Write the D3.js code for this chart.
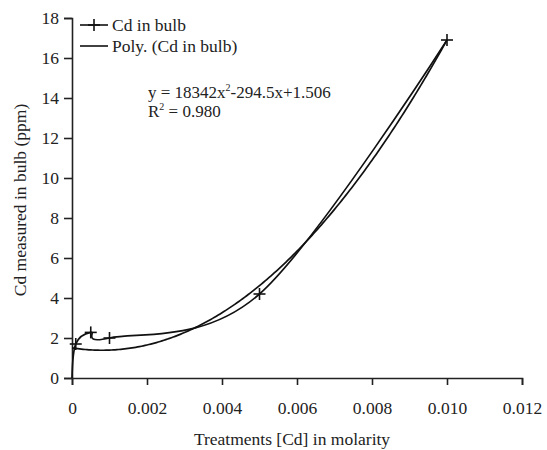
<!DOCTYPE html>
<html><head><meta charset="utf-8">
<script src="https://cdn.jsdelivr.net/npm/d3@7/dist/d3.min.js"></script>
<style>
html,body{margin:0;padding:0;background:#fff;}
svg text{font-family:"Liberation Serif","Times New Roman",serif !important;fill:#222;}
</style></head>
<body>
<svg id="chart" width="547" height="450"></svg>
<script>
// Data
const treatments = [0, 0.0001, 0.0005, 0.001, 0.005, 0.01];
const cdInBulb = [0, 1.7, 2.28, 2.0, 4.2, 16.9];
// Polynomial trendline coefficients [a, b, c] for y = a x^2 + b x + c (drawn curve)
const trendCoeffs = [183420, -294.5, 1.506];
const trendRange = [0, 0.01];
const xTicks = [0, 0.002, 0.004, 0.006, 0.008, 0.010, 0.012];
const xTickLabels = ["0", "0.002", "0.004", "0.006", "0.008", "0.010", "0.012"];
const yTicks = [0, 2, 4, 6, 8, 10, 12, 14, 16, 18];
const legendLabels = ["Cd in bulb", "Poly. (Cd in bulb)"];
const equationText = ["y = 18342x", "2", "-294.5x+1.506"];
const r2Text = ["R", "2", " = 0.980"];

const FONT = "Liberation Serif, Times New Roman, serif";
const FS = 17.5;
const svg = d3.select("#chart");
const x = d3.scaleLinear().domain([0, 0.012]).range([72, 522]);
const y = d3.scaleLinear().domain([0, 18]).range([378, 18]);

// axes
const xAxis = svg.append("g").attr("transform", `translate(0,${y(0)})`)
  .call(d3.axisBottom(x).tickValues(xTicks).tickFormat((d,i)=>xTickLabels[i]).tickSizeOuter(0).tickSize(7).tickPadding(17));
const yAxis = svg.append("g").attr("transform", `translate(${x(0)},0)`)
  .call(d3.axisLeft(y).tickValues(yTicks).tickSizeOuter(0).tickSize(8).tickPadding(5));
[xAxis, yAxis].forEach(g => {
  g.attr("font-family", FONT);
  g.select(".domain").attr("stroke", "#222").attr("stroke-width", 1.6);
  g.selectAll(".tick line").attr("stroke", "#222").attr("stroke-width", 1.6);
  g.selectAll(".tick text").attr("font-size", FS).attr("font-family", FONT).attr("fill", "#222");
});

// trendline
const trendX = d3.range(0, 201).map(i => trendRange[0] + (trendRange[1]-trendRange[0]) * i / 200);
const poly = v => trendCoeffs[0]*v*v + trendCoeffs[1]*v + trendCoeffs[2];
svg.append("path").datum(trendX)
  .attr("d", d3.line().x(d => x(d)).y(d => y(poly(d))))
  .attr("fill", "none").attr("stroke", "#111").attr("stroke-width", 1.7);

// data series (smoothed)
const pts = treatments.map((t, i) => [t, cdInBulb[i]]);
svg.append("path").datum(pts)
  .attr("d", d3.line().x(d => x(d[0])).y(d => y(d[1])).curve(d3.curveCatmullRom.alpha(0)))
  .attr("fill", "none").attr("stroke", "#111").attr("stroke-width", 1.7);

// markers (crosses)
const cross = (g, cx, cy, s) => {
  g.append("line").attr("x1", cx - s).attr("x2", cx + s).attr("y1", cy).attr("y2", cy);
  g.append("line").attr("x1", cx).attr("x2", cx).attr("y1", cy - s).attr("y2", cy + s);
};
const mk = svg.append("g").attr("stroke", "#111").attr("stroke-width", 1.6);
pts.slice(1).forEach(d => cross(mk, x(d[0]), y(d[1]), 6));

// legend
const lg = svg.append("g").attr("font-family", FONT);
lg.append("line").attr("x1", 80).attr("x2", 108).attr("y1", 25).attr("y2", 25).attr("stroke", "#111").attr("stroke-width", 1.6);
cross(lg.append("g").attr("stroke", "#111").attr("stroke-width", 1.6), 94, 25, 6);
lg.append("line").attr("x1", 80).attr("x2", 108).attr("y1", 46).attr("y2", 46).attr("stroke", "#111").attr("stroke-width", 1.6);
lg.append("text").attr("x", 112).attr("y", 31).attr("font-size", FS).text(legendLabels[0]);
lg.append("text").attr("x", 112).attr("y", 52).attr("font-size", FS).text(legendLabels[1]);

// equation (one text block, two lines)
const EFS = 17;
const eq = svg.append("text").attr("x", 148).attr("y", 98).attr("font-size", EFS).attr("font-family", FONT);
eq.append("tspan").text(equationText[0]);
eq.append("tspan").attr("dy", -7).attr("font-size", 10).text(equationText[1]);
eq.append("tspan").attr("dy", 7).text(equationText[2]);
eq.append("tspan").attr("x", 148).attr("dy", 19).text(r2Text[0]);
eq.append("tspan").attr("dy", -7).attr("font-size", 10).text(r2Text[1]);
eq.append("tspan").attr("dy", 7).text(r2Text[2]);

// axis titles
svg.append("text").attr("x", 292).attr("y", 445).attr("text-anchor", "middle").attr("font-size", FS).attr("font-family", FONT)
  .text("Treatments [Cd] in molarity");
svg.append("text").attr("transform", "translate(26,200) rotate(-90)").attr("text-anchor", "middle").attr("font-size", FS).attr("font-family", FONT)
  .text("Cd measured in bulb (ppm)");
</script>
</body></html>
